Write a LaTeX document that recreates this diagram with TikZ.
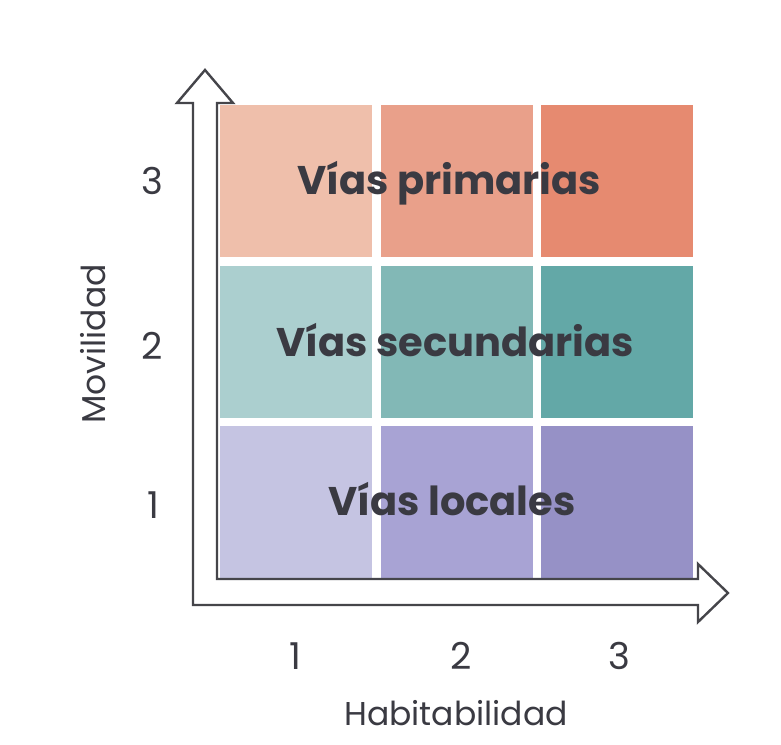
\documentclass[tikz,border=0pt]{standalone}
\usepackage{fontspec}
\setmainfont{Poppins}
\definecolor{txt}{HTML}{3A3A42}
\definecolor{axis}{HTML}{45454A}
\definecolor{pA}{HTML}{EFBFAB}
\definecolor{pB}{HTML}{E9A08A}
\definecolor{pC}{HTML}{E68A70}
\definecolor{sA}{HTML}{ABCFCF}
\definecolor{sB}{HTML}{82B8B6}
\definecolor{sC}{HTML}{63A8A7}
\definecolor{lA}{HTML}{C5C4E2}
\definecolor{lB}{HTML}{A8A3D4}
\definecolor{lC}{HTML}{9691C6}
\tikzset{
  cell/.style={draw=none,inner sep=0pt,minimum width=152pt,minimum height=152pt},
  biglabel/.style={font=\fontsize{40}{44}\selectfont\bfseries,text=txt,inner sep=0pt},
  tick/.style={font=\fontsize{37}{40}\selectfont,text=txt,inner sep=0pt},
  axlabel/.style={font=\fontsize{33}{36}\selectfont,text=txt,inner sep=0pt}
}
\begin{document}
\begin{tikzpicture}[x=1pt,y=-1pt]
\useasboundingbox (0,0) rectangle (781,744);
\fill[white] (0,0) rectangle (781,744);
% cells
\node[cell,fill=pA] (c13) at (296,181) {};
\node[cell,fill=pB] (c23) at (456.5,181) {};
\node[cell,fill=pC] (c33) at (616.5,181) {};
\node[cell,fill=sA] (c12) at (296,341.5) {};
\node[cell,fill=sB] (c22) at (456.5,341.5) {};
\node[cell,fill=sC] (c32) at (616.5,341.5) {};
\node[cell,fill=lA] (c11) at (296,502) {};
\node[cell,fill=lB] (c21) at (456.5,502) {};
\node[cell,fill=lC] (c31) at (616.5,502) {};
% axes outline arrow
\draw[axis,line width=2.4pt,line join=miter] (205,70) -- (233,103) -- (217,103) -- (217,579) -- (698,579) -- (698,564) -- (728,593) -- (698,622) -- (698,605) -- (193,605) -- (193,103) -- (177,103) -- cycle;
% labels
\node[biglabel] (prim) at (449,183) {Vías primarias};
\node[biglabel] (sec) at (455,340) {Vías secundarias};
\node[biglabel] (loc) at (452,499) {Vías locales};
\node[tick] (y3) at (152,181) {3};
\node[tick] (y2) at (152,346) {2};
\node[tick] (y1) at (153,505) {1};
\node[tick] (x1) at (295,656) {1};
\node[tick] (x2) at (461,656) {2};
\node[tick] (x3) at (619,656) {3};
\node[axlabel] (hab) at (456,713) {Habitabilidad};
\node[axlabel,rotate=90] (mov) at (93,344) {Movilidad};
\end{tikzpicture}
\end{document}
